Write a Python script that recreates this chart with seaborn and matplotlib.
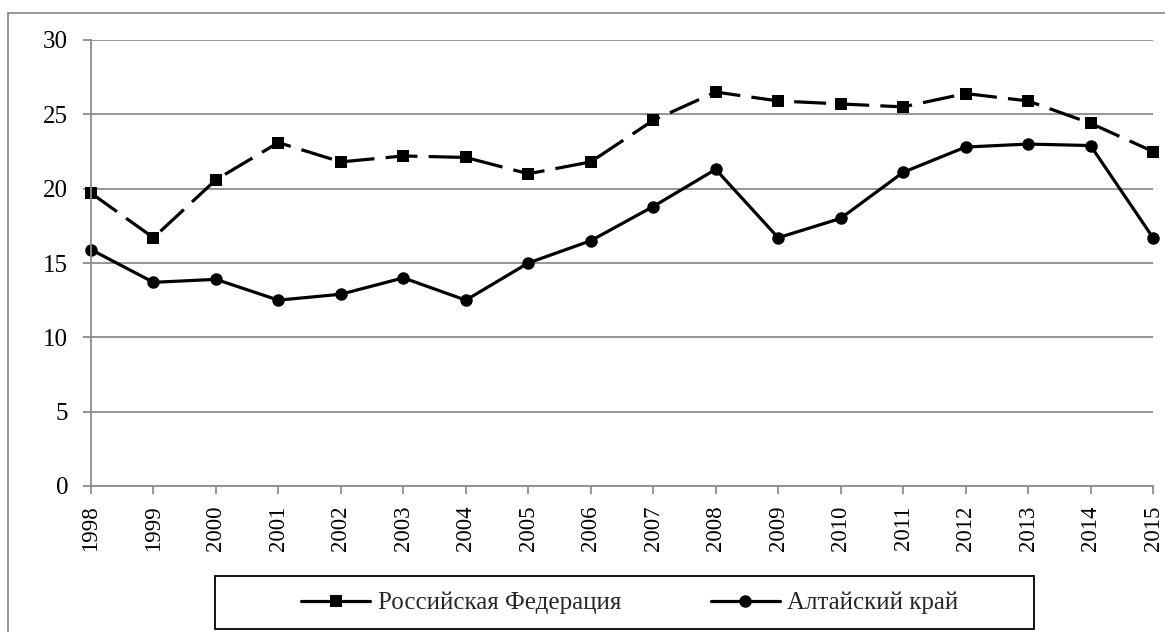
import numpy as np
import pandas as pd
import matplotlib
matplotlib.use("Agg")
import matplotlib.pyplot as plt
import seaborn as sns
from matplotlib.patches import Rectangle

# data
years = list(range(1998, 2016))
russia = [19.7, 16.7, 20.6, 23.1, 21.8, 22.2, 22.1, 21.0, 21.8,
          24.6, 26.5, 25.9, 25.7, 25.5, 26.4, 25.9, 24.4, 22.5]
altai = [15.9, 13.7, 13.9, 12.5, 12.9, 14.0, 12.5, 15.0, 16.5,
         18.8, 21.3, 16.7, 18.0, 21.1, 22.8, 23.0, 22.9, 16.7]
labels = ['Российская Федерация', 'Алтайский край']

df = pd.DataFrame({'year': years, labels[0]: russia, labels[1]: altai})

sns.set_style('white')
plt.rcParams['font.family'] = ['Liberation Serif', 'DejaVu Serif']

fig = plt.figure(figsize=(11.65, 6.32), dpi=100)
ax = fig.add_axes([91/1165, 1 - 486/632, (1153 - 91)/1165, (486 - 40)/632])

grid_col = '#8c8c8c'

sns.lineplot(data=df, x='year', y=labels[0], ax=ax, color='black', lw=2.3,
             marker='s', markersize=9, markeredgewidth=0,
             dashes=False, linestyle=(0, (10, 3.5)), label=labels[0], clip_on=False)
sns.lineplot(data=df, x='year', y=labels[1], ax=ax, color='black', lw=2.3,
             marker='o', markersize=9, markeredgewidth=0,
             label=labels[1], clip_on=False)

ax.set_xlim(1998, 2015)
ax.set_ylim(0, 30)
ax.set_xticks(years)
ax.set_xticklabels([str(y) for y in years], rotation=90)
ax.set_yticks(range(0, 31, 5))
ax.set_xlabel('')
ax.set_ylabel('')

ax.yaxis.grid(True, color=grid_col, lw=1.3)
ax.xaxis.grid(False)
ax.set_axisbelow(True)
for side in ['top', 'right']:
    ax.spines[side].set_visible(False)
for side in ['left', 'bottom']:
    ax.spines[side].set_color(grid_col)
    ax.spines[side].set_linewidth(1.3)

ax.tick_params(axis='both', which='major', direction='out', length=6, width=1.3,
               color=grid_col, labelcolor='black')
ax.tick_params(axis='x', bottom=True, pad=8, labelsize=16.5)
ax.tick_params(axis='y', left=True, pad=10.5, labelsize=18)

# outer chart border (runs off the right and bottom edges)
fig.patches.append(Rectangle((8/1165, -0.1), 1.2, 1 - 13/632 + 0.1,
                             transform=fig.transFigure, fill=False,
                             edgecolor=grid_col, lw=1.3))

# legend box drawn separately, entries centred inside it
fig.patches.append(Rectangle((215/1165, 1 - 629/632), 819/1165, 53/632,
                             transform=fig.transFigure, fill=False,
                             edgecolor='black', lw=1.3))
ax.get_legend().remove()
leg = fig.legend(loc='center', bbox_to_anchor=(630/1165, 1 - 603/632),
                 ncol=2, frameon=False, fontsize=18, handlelength=2.75,
                 handletextpad=0.3, columnspacing=3.6, borderpad=0)
for h in leg.legend_handles:
    h.set_linestyle('-')

fig.savefig('out.png', dpi=100)
